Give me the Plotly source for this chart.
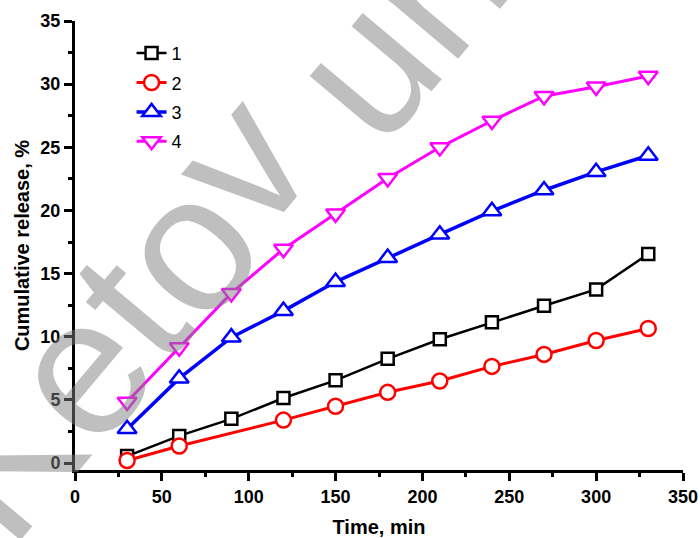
import plotly.graph_objects as go

# Data
time_all = [30, 60, 90, 120, 150, 180, 210, 240, 270, 300, 330]
time_s2 = [30, 60, 120, 150, 180, 210, 240, 270, 300, 330]

s1 = [0.55, 2.15, 3.5, 5.15, 6.55, 8.25, 9.8, 11.15, 12.45, 13.75, 16.55]
s2 = [0.2, 1.35, 3.4, 4.5, 5.6, 6.5, 7.65, 8.6, 9.7, 10.65]
s3 = [2.7, 6.7, 9.95, 12.05, 14.35, 16.25, 18.1, 19.95, 21.6, 23.05, 24.35]
s4 = [4.85, 9.15, 13.45, 16.95, 19.75, 22.55, 25.0, 27.1, 29.05, 29.8, 30.65]

series_names = ["1", "2", "3", "4"]
colors = ["#000000", "#ff0000", "#0000ff", "#ff00ff"]
symbols = ["square", "circle", "triangle-up", "triangle-down"]
sizes = [12, 15, 16.5, 16.5]
line_widths = [2.5, 3, 3.5, 3]

x_ticks = [0, 50, 100, 150, 200, 250, 300, 350]
y_ticks = [0, 5, 10, 15, 20, 25, 30, 35]

# Watermark letters and their approximate centres (page pixels)
wm_letters = ["K", "e", "t", "o", "v", "u", "n"]
wm_px = [(0, 459), (78, 370), (128, 306), (185, 247), (239, 160), (363, 67), (432, -16)]

FONT = "Arial, Liberation Sans, sans-serif"
W, H = 700, 538
ML, MR, MT, MB = 75, 17, 21, 68

fig = go.Figure()
xs = [time_all, time_s2, time_all, time_all]
ys = [s1, s2, s3, s4]
for i in range(4):
    fig.add_trace(go.Scatter(
        x=xs[i], y=ys[i], name=series_names[i], mode="lines+markers",
        legendgroup=series_names[i],
        line=dict(color=colors[i], width=line_widths[i]),
        marker=dict(symbol=symbols[i], size=sizes[i], color="white",
                    line=dict(color=colors[i], width=2.5)),
    ))

axis_common = dict(
    showline=True, linecolor="black", linewidth=3,
    ticks="outside", ticklen=8, tickwidth=3, tickcolor="black",
    showgrid=False, zeroline=False, automargin=False,
    tickfont=dict(family=FONT, size=18, color="black", weight="bold"),
)

pw, ph = W - ML - MR, H - MT - MB
annotations = []
for ch, (px, py) in zip(wm_letters, wm_px):
    annotations.append(dict(
        text=ch, xref="paper", yref="paper",
        x=(px - ML) / pw, y=1 - (py - MT) / ph,
        xanchor="center", yanchor="middle", showarrow=False, textangle=-50,
        font=dict(family=FONT, size=195, color="rgba(128,128,128,0.5)"),
    ))

fig.update_layout(
    width=W, height=H,
    margin=dict(l=ML, r=MR, t=MT, b=MB),
    plot_bgcolor="white", paper_bgcolor="white",
    showlegend=True,
    legend=dict(
        x=0.093, y=0.969, xanchor="left", yanchor="top",
        font=dict(family=FONT, size=18, color="black"),
        bgcolor="rgba(0,0,0,0)", tracegroupgap=3,
    ),
    xaxis=dict(
        range=[0, 350], tickmode="array", tickvals=x_ticks,
        minor=dict(dtick=25, tick0=0, ticks="outside", ticklen=4, tickwidth=3, tickcolor="black"),
        title=dict(text="Time, min", font=dict(family=FONT, size=20, color="black", weight="bold"), standoff=18),
        **axis_common,
    ),
    yaxis=dict(
        range=[-0.55, 35], tickmode="array", tickvals=y_ticks,
        minor=dict(dtick=2.5, tick0=0, ticks="outside", ticklen=4, tickwidth=3, tickcolor="black"),
        title=dict(text="Cumulative release, %", font=dict(family=FONT, size=20, color="black", weight="bold"), standoff=6),
        **axis_common,
    ),
    annotations=annotations,
)

fig.write_html("out.html")
